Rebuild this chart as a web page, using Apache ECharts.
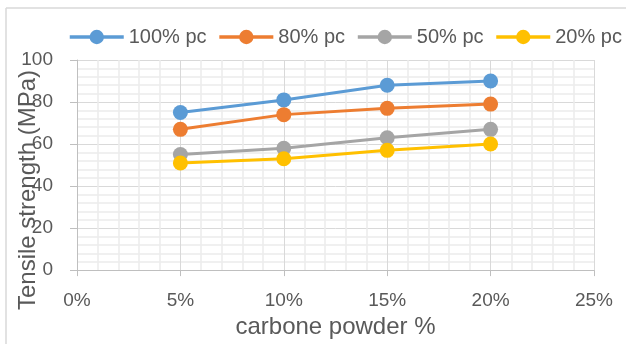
<!DOCTYPE html>
<html>
<head>
<meta charset="utf-8">
<script src="https://cdn.jsdelivr.net/npm/echarts@6/dist/echarts.min.js"></script>
<style>
html,body{margin:0;padding:0;background:#fff;}
#c{width:626px;height:344px;}
</style>
</head>
<body>
<div id="c"></div>
<script>
const xValues = [5, 10, 15, 20];
const seriesNames = ['100% pc', '80% pc', '50% pc', '20% pc'];
const pc100 = [75, 81, 88, 90];
const pc80 = [67, 74, 77, 79];
const pc50 = [55, 58, 63, 67];
const pc20 = [51, 53, 57, 60];
const colors = ['#5B9BD5', '#ED7D31', '#A5A5A5', '#FFC000'];
const xTitle = 'carbone powder %';
const yTitle = 'Tensile strength (MPa)';

const FONT = 'Liberation Sans';
const allValues = [pc100, pc80, pc50, pc20];

const chart = echarts.init(document.getElementById('c'), null, {renderer: 'canvas'});
const option = {
  backgroundColor: '#ffffff',
  animation: false,
  textStyle: {fontFamily: FONT},
  legend: {
    left: 68, top: 27, width: 558, padding: 0,
    itemWidth: 54, itemHeight: 18, itemGap: 11,
    lineStyle: {width: 3.5},
    textStyle: {fontSize: 20, color: '#595959', fontFamily: FONT},
    data: seriesNames
  },
  grid: {left: 77, top: 60, width: 517, height: 218, containLabel: false},
  xAxis: {
    type: 'value', min: 0, max: 25, interval: 5,
    name: xTitle, nameLocation: 'middle', nameGap: 36,
    nameTextStyle: {fontSize: 24, color: '#595959', fontFamily: FONT},
    axisLine: {show: true, lineStyle: {color: '#bfbfbf', width: 1}},
    axisTick: {show: true, length: 6, lineStyle: {color: '#bfbfbf'}},
    axisLabel: {formatter: '{value}%', fontSize: 19, color: '#595959', margin: 21, fontFamily: FONT},
    splitLine: {show: true, lineStyle: {color: '#d9d9d9', width: 1}},
    minorTick: {show: true, splitNumber: 5, length: 0, lineStyle: {color: '#ffffff', width: 0}},
    minorSplitLine: {show: true, lineStyle: {color: '#ebebeb', width: 1.5}}
  },
  yAxis: {
    type: 'value', min: 0, max: 100, interval: 20,
    axisLine: {show: true, lineStyle: {color: '#bfbfbf', width: 1}},
    axisTick: {show: true, length: 7, lineStyle: {color: '#bfbfbf'}},
    axisLabel: {fontSize: 19, color: '#595959', margin: 24, fontFamily: FONT},
    splitLine: {show: true, lineStyle: {color: '#d9d9d9', width: 1}},
    minorTick: {show: true, splitNumber: 5, length: 0, lineStyle: {color: '#ffffff', width: 0}},
    minorSplitLine: {show: true, lineStyle: {color: '#ebebeb', width: 1.5}}
  },
  graphic: [
    {type: 'line', shape: {x1: 6, y1: 8, x2: 6, y2: 344}, style: {stroke: '#d9d9d9', lineWidth: 1.5}, silent: true},
    {type: 'line', shape: {x1: 6, y1: 8, x2: 626, y2: 8}, style: {stroke: '#d9d9d9', lineWidth: 1.5}, silent: true},
    {type: 'text', x: 28, y: 190, rotation: Math.PI / 2,
      style: {text: yTitle, fontSize: 24, fill: '#595959', fontFamily: FONT, align: 'center', verticalAlign: 'middle'}, silent: true}
  ],
  series: seriesNames.map((name, i) => ({
    name: name,
    type: 'line',
    data: xValues.map((x, j) => [x, allValues[i][j]]),
    symbol: 'circle',
    symbolSize: 15,
    itemStyle: {color: colors[i]},
    lineStyle: {color: colors[i], width: 3}
  }))
};
chart.setOption(option);
</script>
</body>
</html>
